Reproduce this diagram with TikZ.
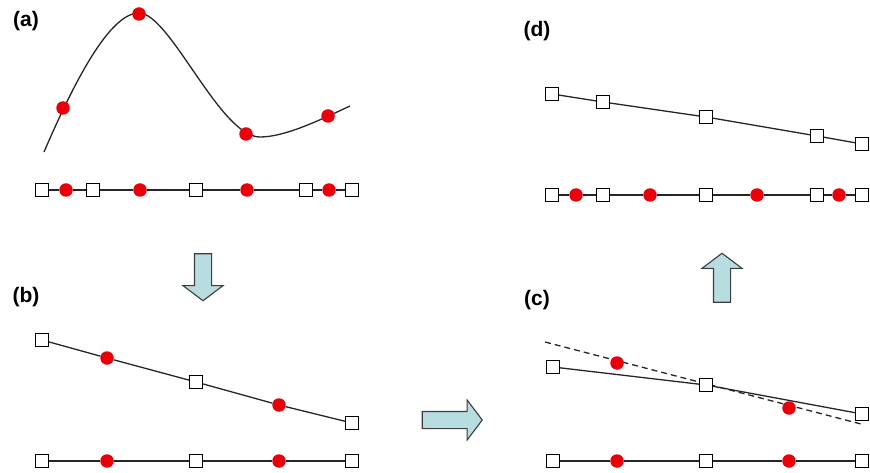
\documentclass[tikz,border=0pt]{standalone}
\usepackage{fontspec}
\setmainfont{Liberation Sans}
\usepackage{xcolor}
\usetikzlibrary{shapes.arrows}
\definecolor{PRed}{HTML}{E8000B}
\definecolor{PArrow}{HTML}{B8DDE1}
\definecolor{PEdge}{HTML}{3C3C3C}

\begin{document}
\begin{tikzpicture}[
  x=1pt,y=-1pt,
  tag/.style={font=\bfseries\fontsize{21}{24}\selectfont,inner sep=0pt},
  knot/.style={draw=black,fill=white,line width=1.3pt,minimum size=12.5pt,inner sep=0pt},
  sample/.style={circle,fill=PRed,minimum size=13.5pt,inner sep=0pt},
  link/.style={line width=1.3pt,color=black!85},
  move/.style={single arrow,draw=PEdge,fill=PArrow,line width=1.1pt,inner xsep=0pt,inner ysep=8pt,
    single arrow head extend=11.5pt,single arrow tip angle=106}
]
  \useasboundingbox (0,0) rectangle (870,473);

  % (a) samples on the curve
  \node[tag] (ta) at (26,21) {(a)};
  \draw[link] (44,152) .. controls (75,80) and (110,13) .. (139,13)
    .. controls (170,13) and (220,137) .. (260,137)
    .. controls (285,137) and (320,120) .. (350,106);
  \node[sample] (ac1) at (63,108) {};
  \node[sample] (ac2) at (139,14) {};
  \node[sample] (ac3) at (246,134) {};
  \node[sample] (ac4) at (328,116) {};

  \node[knot] (as1) at (42,190) {};
  \node[sample] (ad1) at (66,190) {};
  \node[knot] (as2) at (93,190) {};
  \node[sample] (ad2) at (140,190) {};
  \node[knot] (as3) at (196,190) {};
  \node[sample] (ad3) at (247,190) {};
  \node[knot] (as4) at (306,190) {};
  \node[sample] (ad4) at (329,190) {};
  \node[knot] (as5) at (352,190) {};
  \draw[link] (as1) -- (ad1) -- (as2) -- (ad2) -- (as3) -- (ad3) -- (as4) -- (ad4) -- (as5);

  % (b) coarse grid
  \node[tag] (tb) at (26,297) {(b)};
  \node[knot] (bu1) at (42,340) {};
  \node[sample] (bc1) at (107,358) {};
  \node[knot] (bu2) at (196,382) {};
  \node[sample] (bc2) at (279,405) {};
  \node[knot] (bu3) at (352,423) {};
  \draw[link] (bu1) -- (bc1) -- (bu2) -- (bc2) -- (bu3);

  \node[knot] (bs1) at (42,461) {};
  \node[sample] (bd1) at (107,461) {};
  \node[knot] (bs2) at (196,461) {};
  \node[sample] (bd2) at (279,461) {};
  \node[knot] (bs3) at (352,461) {};
  \draw[link] (bs1) -- (bd1) -- (bs2) -- (bd2) -- (bs3);

  % (c) fit on the coarse grid
  \node[tag] (tc) at (537,300) {(c)};
  \coordinate (fitA) at (545,342);
  \coordinate (fitB) at (861,424);
  \draw[link,dash pattern=on 6pt off 4pt] (fitA) -- (fitB);
  \node[knot] (cu1) at (553,367) {};
  \node[knot] (cu2) at (706,385) {};
  \node[knot] (cu3) at (862,414) {};
  \draw[link] (cu1) -- (cu2) -- (cu3);
  \node[sample] (cc1) at (617,363) {};
  \node[sample] (cc2) at (789,408) {};

  \node[knot] (cs1) at (553,461) {};
  \node[sample] (cd1) at (617,461) {};
  \node[knot] (cs2) at (706,461) {};
  \node[sample] (cd2) at (789,461) {};
  \node[knot] (cs3) at (862,461) {};
  \draw[link] (cs1) -- (cd1) -- (cs2) -- (cd2) -- (cs3);

  % (d) back to the fine grid
  \node[tag] (td) at (537,31) {(d)};
  \node[knot] (du1) at (552,94) {};
  \node[knot] (du2) at (603,102) {};
  \node[knot] (du3) at (706,117) {};
  \node[knot] (du4) at (817,136) {};
  \node[knot] (du5) at (862,144) {};
  \draw[link] (du1) -- (du2) -- (du3) -- (du4) -- (du5);

  \node[knot] (ds1) at (552,195) {};
  \node[sample] (dd1) at (576,195) {};
  \node[knot] (ds2) at (603,195) {};
  \node[sample] (dd2) at (650,195) {};
  \node[knot] (ds3) at (706,195) {};
  \node[sample] (dd3) at (757,195) {};
  \node[knot] (ds4) at (817,195) {};
  \node[sample] (dd4) at (839,195) {};
  \node[knot] (ds5) at (862,195) {};
  \draw[link] (ds1) -- (dd1) -- (ds2) -- (dd2) -- (ds3) -- (dd3) -- (ds4) -- (dd4) -- (ds5);

  % steps between panels
  \node[move,minimum height=47pt,rotate=-90] (stepAB) at (203,274) {};
  \node[move,minimum height=60pt] (stepBC) at (449,420) {};
  \node[move,minimum height=49pt,rotate=90] (stepCD) at (722,281) {};
\end{tikzpicture}
\end{document}
